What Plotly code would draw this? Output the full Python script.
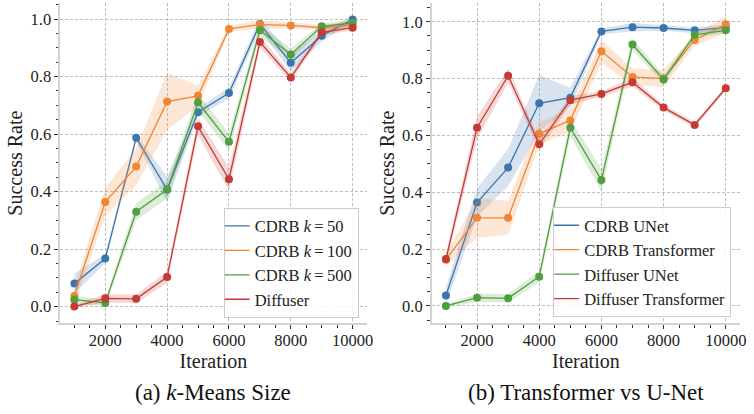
import plotly.graph_objects as go

# ---------------- data ----------------
iterations = [1000, 2000, 3000, 4000, 5000, 6000, 7000, 8000, 9000, 10000]

# (a) k-Means size
cdrb_k50 = [0.080, 0.167, 0.587, 0.407, 0.676, 0.743, 0.983, 0.848, 0.942, 0.999]
cdrb_k50_err = [0.035, 0.015, 0.012, 0.045, 0.015, 0.02, 0.02, 0.03, 0.02, 0.01]
cdrb_k100 = [0.037, 0.364, 0.487, 0.713, 0.733, 0.966, 0.981, 0.978, 0.970, 0.980]
cdrb_k100_err = [0.03, 0.05, 0.065, 0.10, 0.035, 0.01, 0.015, 0.01, 0.01, 0.01]
cdrb_k500 = [0.024, 0.013, 0.330, 0.407, 0.710, 0.573, 0.961, 0.877, 0.975, 0.987]
cdrb_k500_err = [0.015, 0.01, 0.03, 0.03, 0.03, 0.03, 0.02, 0.02, 0.01, 0.01]
diffuser = [0.000, 0.029, 0.027, 0.103, 0.627, 0.443, 0.920, 0.797, 0.954, 0.970]
diffuser_err = [0.005, 0.015, 0.015, 0.02, 0.03, 0.04, 0.02, 0.015, 0.01, 0.01]

# (b) Transformer vs U-Net
cdrb_unet = [0.037, 0.364, 0.487, 0.713, 0.733, 0.966, 0.981, 0.978, 0.970, 0.980]
cdrb_unet_err = [0.03, 0.05, 0.065, 0.10, 0.035, 0.01, 0.015, 0.01, 0.01, 0.01]
cdrb_transformer = [0.163, 0.310, 0.310, 0.606, 0.653, 0.896, 0.806, 0.800, 0.936, 0.991]
cdrb_transformer_err = [0.02, 0.07, 0.06, 0.04, 0.04, 0.04, 0.03, 0.03, 0.02, 0.03]
diffuser_unet = [0.000, 0.029, 0.027, 0.103, 0.627, 0.443, 0.920, 0.797, 0.954, 0.970]
diffuser_unet_err = [0.005, 0.015, 0.015, 0.02, 0.03, 0.04, 0.02, 0.015, 0.01, 0.01]
diffuser_transformer = [0.165, 0.627, 0.810, 0.569, 0.724, 0.746, 0.787, 0.698, 0.637, 0.766]
diffuser_transformer_err = [0.02, 0.04, 0.025, 0.02, 0.015, 0.01, 0.015, 0.01, 0.01, 0.008]

labels_a = ["CDRB <i>k</i>\u2009=\u200950", "CDRB <i>k</i>\u2009=\u2009100",
            "CDRB <i>k</i>\u2009=\u2009500", "Diffuser"]
labels_b = ["CDRB UNet", "CDRB Transformer", "Diffuser UNet", "Diffuser Transformer"]
x_ticks = [2000, 4000, 6000, 8000, 10000]
y_ticks = [0.0, 0.2, 0.4, 0.6, 0.8, 1.0]

# ---------------- style ----------------
colors = ["#3B75AF", "#EF8636", "#519E3E", "#C53A32"]
fills = ["rgba(59,117,175,0.2)", "rgba(239,134,54,0.2)",
         "rgba(81,158,62,0.2)", "rgba(197,58,50,0.2)"]
FONT = "Liberation Serif, Times New Roman, serif"
W, H = 754, 414

fig = go.Figure()


def add_panel(series, errs, labels, xa, ya, legend):
    for i, (vals, err) in enumerate(zip(series, errs)):
        upper = [v + e for v, e in zip(vals, err)]
        lower = [v - e for v, e in zip(vals, err)]
        fig.add_trace(go.Scatter(
            x=iterations + iterations[::-1], y=upper + lower[::-1],
            fill="toself", fillcolor=fills[i], line=dict(width=0),
            mode="lines", hoverinfo="skip", showlegend=False,
            xaxis=xa, yaxis=ya))
        fig.add_trace(go.Scatter(
            x=iterations, y=vals, mode="lines+markers",
            line=dict(color=colors[i], width=1.3),
            marker=dict(color=colors[i], size=8, line=dict(width=0)),
            showlegend=False, xaxis=xa, yaxis=ya))
    for i, lab in enumerate(labels):
        fig.add_trace(go.Scatter(
            x=[None], y=[None], mode="lines", name=lab,
            line=dict(color=colors[i], width=1.3),
            legend=legend, xaxis=xa, yaxis=ya))


add_panel([cdrb_k50, cdrb_k100, cdrb_k500, diffuser],
          [cdrb_k50_err, cdrb_k100_err, cdrb_k500_err, diffuser_err],
          labels_a, "x", "y", "legend")
add_panel([cdrb_unet, cdrb_transformer, diffuser_unet, diffuser_transformer],
          [cdrb_unet_err, cdrb_transformer_err, diffuser_unet_err, diffuser_transformer_err],
          labels_b, "x2", "y2", "legend2")


def tickfont():
    return dict(family=FONT, size=16.5, color="#222222")


def titlefont():
    return dict(family=FONT, size=20, color="#222222")


def xaxis(domain, anchor):
    return dict(
        domain=domain, anchor=anchor, range=[550, 10450],
        tickvals=x_ticks, ticktext=[str(v) for v in x_ticks],
        ticks="outside", ticklen=4, tickwidth=1, tickcolor="#333333",
        ticklabelstandoff=-3,
        minor=dict(ticks="outside", ticklen=2.5, tickwidth=1, tickcolor="#333333",
                   dtick=500, tick0=0, showgrid=False),
        showline=True, linecolor="#d2d2d2", linewidth=2,
        showgrid=True, gridcolor="#bdbdbd", gridwidth=0.8, griddash="3px,2px",
        zeroline=False, tickfont=tickfont(),
        title=dict(text="Iteration", font=titlefont(), standoff=1))


def yaxis(domain, anchor, rng):
    return dict(
        domain=domain, anchor=anchor, range=rng,
        tickvals=y_ticks, ticktext=["%.1f" % v for v in y_ticks],
        ticks="outside", ticklen=4, tickwidth=1, tickcolor="#333333",
        minor=dict(ticks="outside", ticklen=2.5, tickwidth=1, tickcolor="#333333",
                   dtick=0.05, tick0=0, showgrid=False),
        showline=True, linecolor="#d2d2d2", linewidth=2,
        showgrid=True, gridcolor="#bdbdbd", gridwidth=0.8, griddash="3px,2px",
        zeroline=False, tickfont=tickfont(),
        title=dict(text="Success Rate", font=titlefont(), standoff=2))


ydom = [(H - 323.3) / H, (H - 3) / H]


def legend_style(x, y):
    return dict(
        x=x, y=y, bgcolor="rgba(255,255,255,0.85)", bordercolor="#cccccc", borderwidth=1,
        font=dict(family=FONT, size=16.5, color="#222222"),
        xanchor="right", yanchor="bottom", itemwidth=30, tracegroupgap=0,
        indentation=-10)


fig.update_layout(
    width=W, height=H, margin=dict(l=0, r=0, t=0, b=0),
    paper_bgcolor="white", plot_bgcolor="white",
    font=dict(family=FONT, color="#222222"),
    xaxis=xaxis([61 / W, 370 / W], "y"),
    yaxis=yaxis(ydom, "x", [-0.058, 1.056]),
    xaxis2=xaxis([436 / W, 746.7 / W], "y2"),
    yaxis2=yaxis(ydom, "x2", [-0.061, 1.066]),
    legend=legend_style(362 / W, (H - 317.7) / H),
    legend2=legend_style(738 / W, (H - 317) / H),
    annotations=[
        dict(text="(a) <i>k</i>-Means Size", x=(61 + 370) / 2 / W, y=(H - 392) / H,
             xref="paper", yref="paper", xanchor="center", yanchor="middle",
             showarrow=False, font=dict(family=FONT, size=23, color="#111111")),
        dict(text="(b) Transformer vs U-Net", x=(436 + 746.7) / 2 / W, y=(H - 392) / H,
             xref="paper", yref="paper", xanchor="center", yanchor="middle",
             showarrow=False, font=dict(family=FONT, size=23, color="#111111")),
    ],
    showlegend=True,
)

fig.write_html("out.html", config={"displayModeBar": False},
               post_script="document.body.style.margin='0';")
